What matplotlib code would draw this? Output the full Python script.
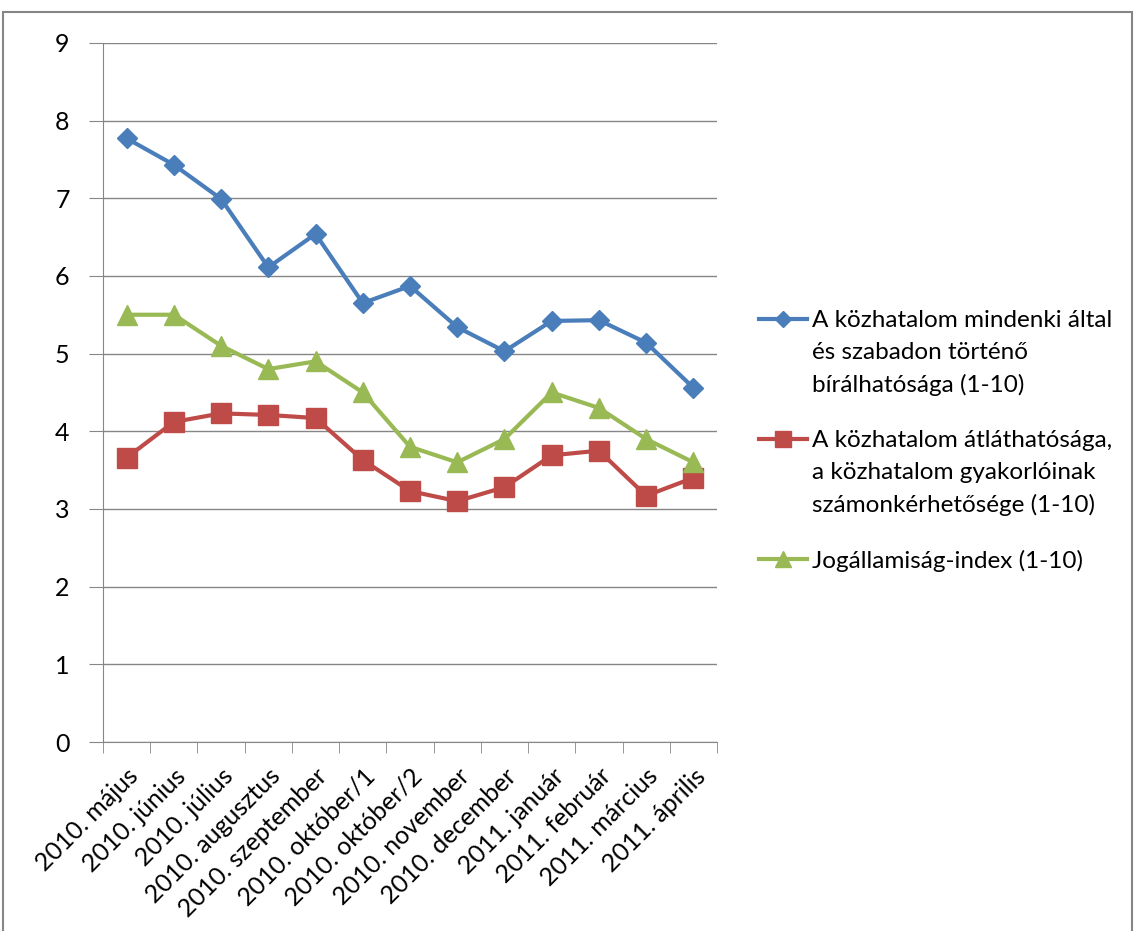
import numpy as np
import matplotlib
matplotlib.use("Agg")
import matplotlib.pyplot as plt
from matplotlib.patches import Rectangle

plt.rcParams["font.family"] = ["Lato", "DejaVu Sans"]

months = ["2010. május", "2010. június", "2010. július", "2010. augusztus",
          "2010. szeptember", "2010. október/1", "2010. október/2",
          "2010. november", "2010. december", "2011. január", "2011. február",
          "2011. március", "2011. április"]

kritika = [7.77, 7.43, 6.99, 6.11, 6.54, 5.65, 5.87, 5.34, 5.03, 5.42, 5.43, 5.14, 4.56]
atlathatosag = [3.66, 4.12, 4.23, 4.21, 4.17, 3.63, 3.23, 3.10, 3.28, 3.69, 3.75, 3.17, 3.40]
jogallam = [5.5, 5.5, 5.1, 4.8, 4.9, 4.5, 3.8, 3.6, 3.9, 4.5, 4.3, 3.9, 3.6]

labels = ["A közhatalom mindenki által\nés szabadon történő\nbírálhatósága (1-10)",
          "A közhatalom átláthatósága,\na közhatalom gyakorlóinak\nszámonkérhetősége (1-10)",
          "Jogállamiság-index (1-10)"]

fig = plt.figure(figsize=(11.37, 9.31), dpi=100)
ax = fig.add_axes([0.0906, 0.203, 0.54, 0.751])

x = np.arange(len(months))
ax.plot(x, kritika, color="#4A7EBB", lw=3, marker="D", ms=10.5, label=labels[0])
ax.plot(x, atlathatosag, color="#BE4B48", lw=3, marker="s", ms=14, label=labels[1])
ax.plot(x, jogallam, color="#98B954", lw=3, marker="^", ms=15, label=labels[2])

ax.set_xlim(-0.5, len(months) - 0.5)
ax.set_ylim(0, 9)
ax.set_yticks(range(0, 10))
ax.yaxis.grid(True, color="#868686", lw=1)
ax.set_axisbelow(True)

ax.set_xticks(x)
ax.set_xticklabels(months, rotation=45, ha="right", rotation_mode="anchor", fontsize=18)
ax.set_xticks(np.arange(-0.5, len(months), 1), minor=True)
ax.tick_params(axis="x", which="major", length=0, pad=16)
ax.tick_params(axis="x", which="minor", length=8, color="#868686")
ax.tick_params(axis="y", length=10, color="#868686", labelsize=18, pad=14)

for s in ["top", "right"]:
    ax.spines[s].set_visible(False)
for s in ["left", "bottom"]:
    ax.spines[s].set_color("#868686")

leg = fig.legend(loc="upper left", bbox_to_anchor=(0.648, 0.69), frameon=False,
                 fontsize=17.5, handlelength=2.0, handletextpad=0.2,
                 labelspacing=1.4, markerscale=0.8)
for t in leg.get_texts():
    t.set_linespacing(1.62)
# handle beside first line of each label, like the original
for col in leg._legend_handle_box.get_children():
    for row in col.get_children():
        row.align = "top"

fig.add_artist(Rectangle((0.003, -0.01), 0.993, 0.997, transform=fig.transFigure,
                         fill=False, edgecolor="#868686", lw=1.5))

fig.savefig("out.png", dpi=100)
